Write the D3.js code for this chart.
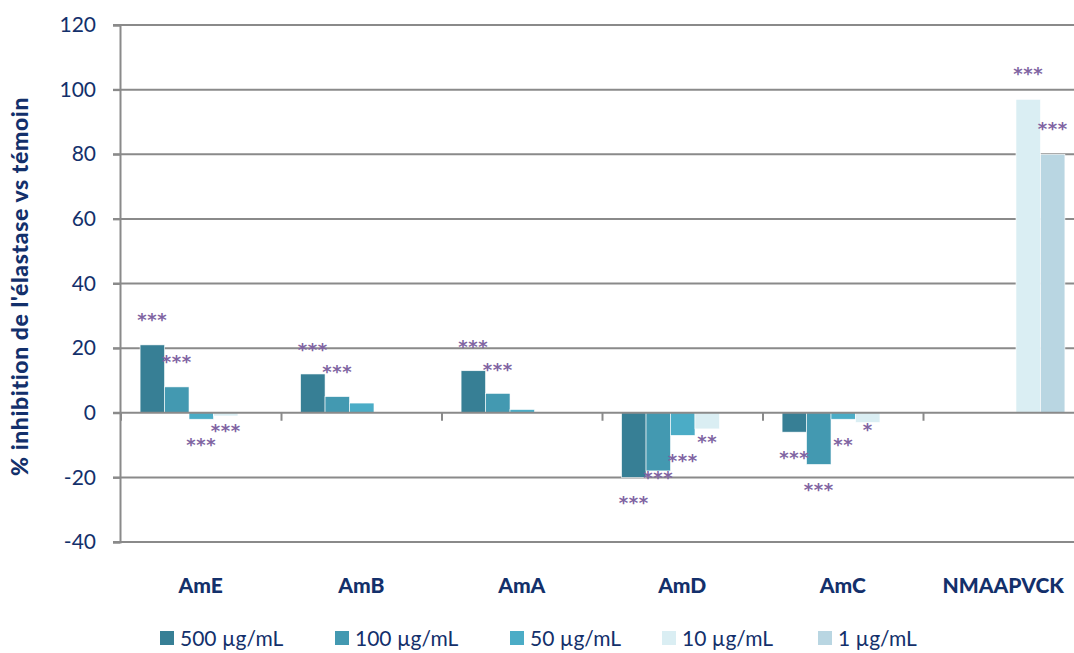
<!DOCTYPE html>
<html><head><meta charset="utf-8">
<script src="https://cdn.jsdelivr.net/npm/d3@7"></script>
<style>body{margin:0;background:#fff}svg{display:block}</style>
</head><body>
<svg id="c" width="1074" height="653"></svg>
<script>
const categories = ["AmE","AmB","AmA","AmD","AmC","NMAAPVCK"];
const seriesNames = ["500 µg/mL","100 µg/mL","50 µg/mL","10 µg/mL","1 µg/mL"];
const v500 = [21,12,13,-20,-6,0];
const v100 = [8,5,6,-18,-16,0];
const v50  = [-2,3,1,-7,-2,0];
const v10  = [-1,0,0,-5,-3,97];
const v1   = [0,0,0,0,0,80];
// significance marks and the value at which each mark sits
const sig500 = ["***","***","***","***","***",null];
const sig100 = ["***","***","***","***","***",null];
const sig50  = ["***",null,null,"***","**",null];
const sig10  = ["***",null,null,"**","*","***"];
const sig1   = [null,null,null,null,null,"***"];
const at500 = [30,20.7,21.7,-26.6,-12.7,null];
const at100 = [17,13.9,14.6,-18.9,-22.6,null];
const at50  = [-8.7,null,null,-13.6,-8.7,null];
const at10  = [-4.3,null,null,-7.7,-4,106.2];
const at1   = [null,null,null,null,null,89.2];
const yTicks = [-40,-20,0,20,40,60,80,100,120];
const colors = ["#377f95","#4399b1","#4bacc6","#daeef3","#b9d6e2"];

(function(){
const values = [v500,v100,v50,v10,v1];
const sigs = [sig500,sig100,sig50,sig10,sig1];
const ats = [at500,at100,at50,at10,at1];

const svg = d3.select("#c");
const navy = "#13306b";
const grid = "#8a8a8a";
const mL = 121, mR = 1084, mT = 25, mB = 542;

const y = d3.scaleLinear().domain([-40,120]).range([mB, mT]);
const x0 = d3.scaleBand().domain(categories).range([mL,mR]).padding(0);
const x1 = d3.scaleBand().domain(d3.range(5)).range([0,x0.bandwidth()]).paddingInner(0).paddingOuter(0.78);

// gridlines
svg.append("g").selectAll("line").data(yTicks.filter(t=>t!==0)).join("line")
  .attr("x1",mL-8).attr("x2",1074).attr("y1",d=>y(d)).attr("y2",d=>y(d))
  .attr("stroke",grid).attr("stroke-width",2);

// y axis
const yAxis = svg.append("g").attr("transform",`translate(${mL-1},0)`)
  .call(d3.axisLeft(y).tickValues(yTicks).tickSize(7).tickPadding(17).tickFormat(d=>String(d)));
yAxis.select(".domain").attr("stroke",grid).attr("stroke-width",2);
yAxis.selectAll(".tick line").attr("stroke",grid).attr("stroke-width",2);
yAxis.selectAll(".tick text").attr("fill",navy).style("font-family","Lato").style("font-size","21px");

// bars
const bars = [];
values.forEach((arr,si)=>arr.forEach((v,ci)=>bars.push({si,ci,v})));
svg.append("g").selectAll("rect").data(bars).join("rect")
  .attr("x",d=>x0(categories[d.ci])+x1(d.si))
  .attr("width",x1.bandwidth())
  .attr("y",d=>y(Math.max(0,d.v)))
  .attr("height",d=>Math.abs(y(d.v)-y(0)))
  .attr("fill",d=>colors[d.si])
  .attr("stroke","#ffffff").attr("stroke-width",0.6);

// x axis at zero
const xAxis = svg.append("g").attr("transform",`translate(0,${y(0)})`);
xAxis.append("line").attr("x1",mL-8).attr("x2",1074).attr("y1",0).attr("y2",0)
  .attr("stroke",grid).attr("stroke-width",2);
xAxis.selectAll("line.t").data(categories).join("line").attr("class","t")
  .attr("x1",d=>x0(d)).attr("x2",d=>x0(d)).attr("y1",0).attr("y2",8)
  .attr("stroke",grid).attr("stroke-width",2);

// category labels
svg.append("g").selectAll("text").data(categories).join("text")
  .attr("x",d=>x0(d)+x0.bandwidth()/2 - 0.5).attr("y",593)
  .attr("text-anchor","middle").attr("fill",navy)
  .style("font-family","Lato").style("font-weight","900").style("font-size","21px")
  .text(d=>d);

// significance marks
const marks = [];
sigs.forEach((arr,si)=>arr.forEach((s,ci)=>{ if(s) marks.push({si,ci,s,at:ats[si][ci]}); }));
svg.append("g").selectAll("text").data(marks).join("text")
  .attr("x",d=>x0(categories[d.ci])+x1(d.si)+x1.bandwidth()/2)
  .attr("y",d=>y(d.at)+10)
  .attr("text-anchor","middle").attr("fill","#8064a2")
  .style("font-family","DejaVu Sans").style("font-weight","bold").style("font-size","18px").style("letter-spacing","0.6px")
  .text(d=>d.s);

// y title
svg.append("text").attr("transform",`translate(28,${(mT+mB)/2+3}) rotate(-90)`)
  .attr("text-anchor","middle").attr("fill",navy)
  .style("font-family","Lato").style("font-weight","900").style("font-size","23px")
  .style("letter-spacing","0.6px")
  .text("% inhibition de l'élastase vs témoin");

// legend
const legX = [160,335,510,662,818];
const leg = svg.append("g").selectAll("g").data(seriesNames).join("g")
  .attr("transform",(d,i)=>`translate(${legX[i]},631)`);
leg.append("rect").attr("width",14).attr("height",14).attr("fill",(d,i)=>colors[i]);
leg.append("text").attr("x",20).attr("y",15).attr("fill",navy)
  .style("font-family","Lato").style("font-size","21px").text(d=>d);
})();
</script>
</body></html>
